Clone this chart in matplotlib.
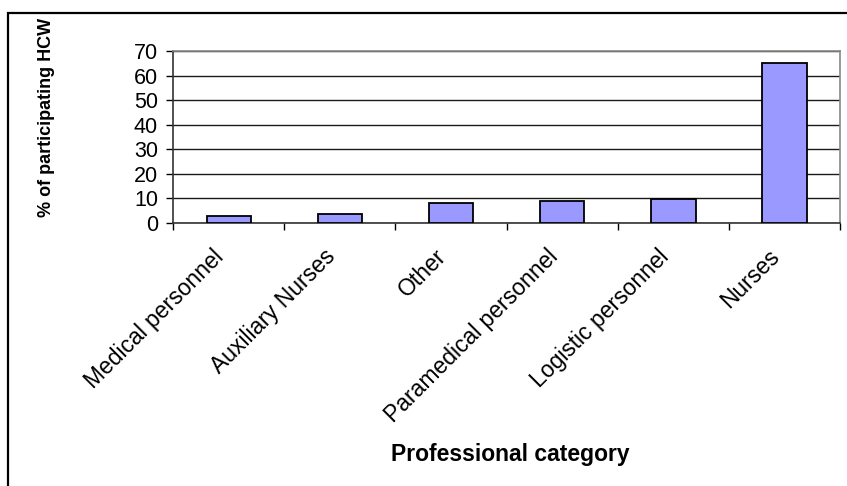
import numpy as np
import matplotlib
matplotlib.use("Agg")
from matplotlib import pyplot as plt
from matplotlib.patches import Rectangle
from matplotlib.transforms import Bbox, TransformedBbox

# Professional categories and share of participating health-care workers (%)
categories = ["Medical personnel", "Auxiliary Nurses", "Other",
              "Paramedical personnel", "Logistic personnel", "Nurses"]
percent_hcw = [2.8, 3.5, 8.3, 9.0, 9.7, 65.3]
y_ticks = [0, 10, 20, 30, 40, 50, 60, 70]

plt.rcParams["font.family"] = ["Liberation Sans", "DejaVu Sans"]

fig = plt.figure(figsize=(8.47, 4.86), dpi=100)
ax = fig.add_axes([0.2045, 0.5412, 0.7872, 0.3538])

x = np.arange(len(categories))
ax.bar(x, percent_hcw, width=0.4, color="#9999FF", edgecolor="black",
       linewidth=1.3, zorder=3)

ax.set_xlim(-0.5, len(categories) - 0.5)
ax.set_ylim(0, 70)
ax.set_yticks(y_ticks)
ax.tick_params(axis="y", labelsize=15.5, direction="out", length=5, width=1, pad=6)
ax.yaxis.grid(True, color="#1a1a1a", linewidth=1.0, zorder=0)

# ticks sit between the categories, labels sit under the bars
ax.set_xticks(np.arange(-0.5, len(categories), 1.0))
ax.set_xticklabels([])
ax.set_xticks(x, minor=True)
ax.set_xticklabels(categories, minor=True, rotation=45, ha="right", va="top",
                   fontsize=16.5)
ax.tick_params(axis="x", which="major", direction="out", length=5, width=1)
ax.tick_params(axis="x", which="minor", length=0, pad=16)

for side in ["left", "bottom"]:
    ax.spines[side].set_color("#333333")
    ax.spines[side].set_linewidth(1.2)
for side in ["top", "right"]:
    ax.spines[side].set_color("#888888")
    ax.spines[side].set_linewidth(1.2)

ylab = ax.set_ylabel("% of participating HCW", fontsize=13, fontweight="bold")
ax.yaxis.set_label_coords(-0.178, 0.615)
ax.set_xlabel("Professional category", fontsize=16.5, fontweight="bold")
ax.xaxis.set_label_coords(0.505, -1.28)

# frame around the chart, open at the bottom and right edges of the image
frame = Rectangle((8 / 847, -0.1), 1.2, 1.1 - 13 / 486, transform=fig.transFigure,
                  fill=False, edgecolor="black", linewidth=1.6, clip_on=False)
fig.patches.append(frame)
ylab.set_clip_box(TransformedBbox(Bbox([[0, 0], [1, 1 - 13 / 486]]), fig.transFigure))
ylab.set_clip_on(True)

fig.savefig("out.png", dpi=100)
